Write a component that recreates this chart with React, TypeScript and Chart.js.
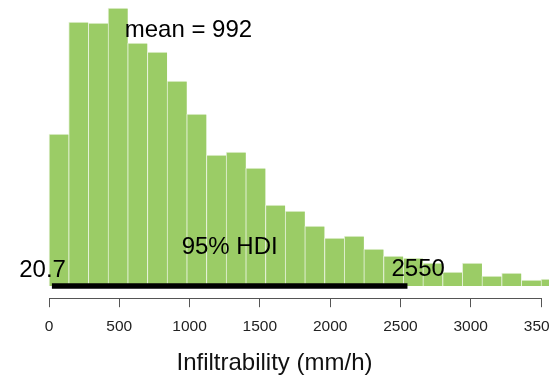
import React, { useEffect, useRef } from "react";
import { Chart, registerables } from "chart.js";

Chart.register(...registerables);

// ---- data ----
const binStarts = [0, 140, 280, 420, 560, 700, 840, 980, 1120, 1260, 1400, 1540, 1680, 1820, 1960, 2100, 2240, 2380, 2520, 2660, 2800, 2940, 3080, 3220, 3360, 3500];
const binWidth = 140;
const counts = [152, 264, 263, 278, 243, 234, 205, 172, 131, 134, 118, 81, 75, 60, 48, 50, 37, 30, 28, 23, 14, 23, 10, 13, 6, 7];
const hdiLow = 20.7;
const hdiHigh = 2550;
const meanValue = 992;
const tickValues = [0, 500, 1000, 1500, 2000, 2500, 3000, 3500];
const xTitle = "Infiltrability (mm/h)";
const meanLabel = "mean = 992";
const hdiLabel = "95% HDI";
const hdiLowLabel = "20.7";
const hdiHighLabel = "2550";

const FONT = '"Liberation Sans", Arial, Helvetica, sans-serif';

const annotPlugin = {
  id: "annot",
  afterDatasetsDraw(chart: any) {
    const { ctx, scales, chartArea } = chart;
    const x = scales.x;
    const y = scales.y;
    ctx.save();
    // axis line (only from first to last tick, R style)
    ctx.strokeStyle = "#555";
    ctx.lineWidth = 1;
    const ay = Math.round(chartArea.bottom) + 0.5;
    ctx.beginPath();
    ctx.moveTo(Math.round(x.getPixelForValue(tickValues[0])) + 0.5, ay);
    ctx.lineTo(Math.round(x.getPixelForValue(tickValues[tickValues.length - 1])) + 0.5, ay);
    ctx.stroke();

    const y0 = y.getPixelForValue(0);
    ctx.fillStyle = "#000";
    ctx.font = `24px ${FONT}`;
    ctx.textBaseline = "alphabetic";

    // mean label
    ctx.textAlign = "center";
    ctx.fillText(meanLabel, x.getPixelForValue(meanValue), chartArea.top + 36.7);

    // HDI label
    ctx.fillText(hdiLabel, x.getPixelForValue((hdiLow + hdiHigh) / 2), y0 - 31.7);

    // HDI limits
    ctx.textAlign = "left";
    const wl = ctx.measureText(hdiLowLabel).width;
    ctx.fillText(hdiLowLabel, x.getPixelForValue(hdiLow) - 0.7 * wl, y0 - 9.5);
    const wh = ctx.measureText(hdiHighLabel).width;
    ctx.fillText(hdiHighLabel, x.getPixelForValue(hdiHigh) - 0.3 * wh, y0 - 10);
    ctx.restore();
  },
};

export default function App() {
  const ref = useRef<HTMLCanvasElement | null>(null);

  useEffect(() => {
    document.body.style.margin = "0";
    const canvas = ref.current;
    if (!canvas) return;

    const barData = binStarts.map((s, i) => ({ x: s + binWidth / 2, y: counts[i] }));

    const chart = new Chart(canvas, {
      type: "bar",
      data: {
        datasets: [
          {
            type: "line",
            data: [
              { x: hdiLow, y: 0 },
              { x: hdiHigh, y: 0 },
            ],
            borderColor: "#000",
            borderWidth: 5.5,
            borderCapStyle: "butt",
            pointRadius: 0,
            fill: false,
            order: 0,
          } as any,
          {
            type: "bar",
            data: barData,
            backgroundColor: "#9bcc66",
            borderColor: "#e6f2da",
            borderWidth: { top: 1, left: 1, right: 0, bottom: 0 },
            borderSkipped: false,
            barPercentage: 1,
            categoryPercentage: 1,
            order: 1,
          } as any,
        ],
      },
      options: {
        animation: false,
        responsive: false,
        layout: { padding: 0 },
        plugins: {
          legend: { display: false },
          tooltip: { enabled: false },
        },
        scales: {
          x: {
            type: "linear",
            offset: false,
            min: -348.6,
            max: 3556.9,
            afterBuildTicks: (scale: any) => {
              scale.ticks = tickValues.map((v) => ({ value: v }));
            },
            afterFit: (scale: any) => {
              scale.paddingLeft = 0;
              scale.paddingRight = 0;
            },
            border: { display: false },
            grid: {
              display: true,
              offset: false,
              drawOnChartArea: false,
              drawTicks: true,
              tickLength: 9.5,
              color: "#555",
              lineWidth: 1,
            },
            ticks: {
              autoSkip: false,
              maxRotation: 0,
              minRotation: 0,
              padding: 10.2,
              color: "#222",
              font: { family: FONT, size: 15.5, lineHeight: 1.2 },
              callback: (v: any) => String(v),
            },
            title: {
              display: true,
              text: xTitle,
              color: "#111",
              font: { family: FONT, size: 24, lineHeight: 1 },
              padding: { top: 4.8, bottom: 0 },
            },
          },
          y: {
            type: "linear",
            display: false,
            min: -11.7,
            max: 286,
          },
        },
      } as any,
      plugins: [annotPlugin],
    });

    return () => chart.destroy();
  }, []);

  return (
    <div style={{ width: 549, height: 375 }}>
      <canvas ref={ref} width={549} height={375} style={{ display: "block" }} />
    </div>
  );
}
